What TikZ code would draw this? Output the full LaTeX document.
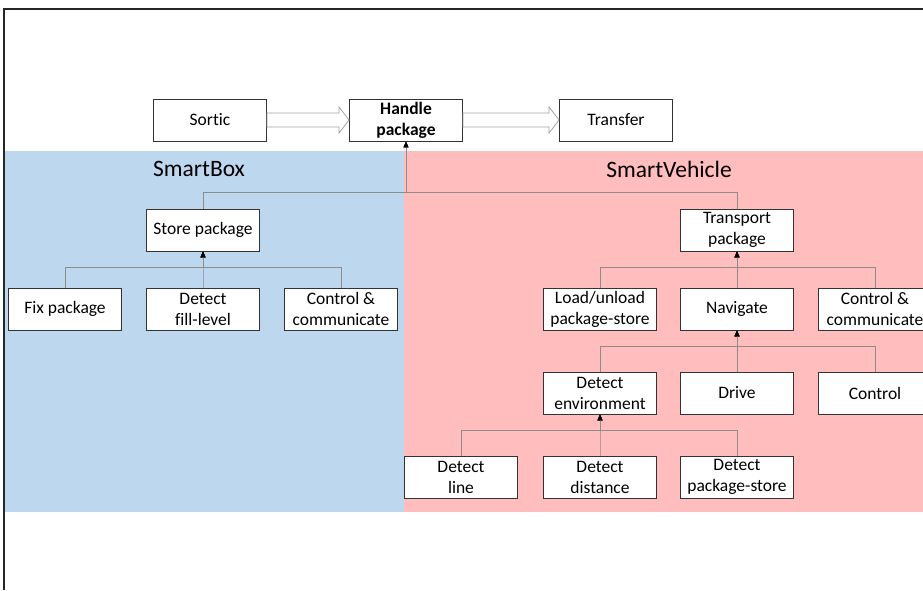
\documentclass[tikz,border=0pt]{standalone}
\usepackage{fontspec}
\setmainfont{Carlito}[Ligatures={NoCommon}]
\usepackage{tikz}
\usetikzlibrary{arrows.meta,calc}

\definecolor{boxblue}{HTML}{BDD7EE}
\definecolor{vehiclered}{HTML}{FFBDBD}
\definecolor{linkgray}{HTML}{8C8C8C}

\tikzset{
    func/.style={draw=black!80, line width=0.9pt, fill=white, align=center,
        minimum width=113pt, minimum height=42pt, inner sep=1pt,
        font=\fontsize{17.5}{21}\selectfont},
    link/.style={draw=linkgray, line width=0.8pt,
        -{Triangle[length=6pt,width=5pt,color=black]}},
    flow/.style={draw=linkgray!80, line width=0.8pt},
    title/.style={font=\fontsize{23.5}{28}\selectfont}
}

\begin{document}
\begin{tikzpicture}[x=1pt,y=-1pt]
    \clip (0,0) rectangle (923,590);
    % background regions and frame
    \fill[boxblue] (4,151) rectangle (404,512);
    \fill[vehiclered] (404,151) rectangle (923,512);
    \draw[black!85, line width=1.3pt] (4,590) -- (4,9) -- (923,9);
    \node[title] (smartbox) at (199,169) {SmartBox};
    \node[title] (smartvehicle) at (669,169) {SmartVehicle};

    % top level
    \node[func] (sortic) at (210,120) {Sortic};
    \node[func, font=\fontsize{17.5}{21}\selectfont\bfseries] (handle) at (406,120) {Handle\\package};
    \node[func] (transfer) at (616,120) {Transfer};
    \draw[flow] ($(sortic.east)+(0,-7)$) -- ($(handle.west)+(-10,-7)$) -- ($(handle.west)+(-10,-13)$)
        -- (handle.west) -- ($(handle.west)+(-10,13)$) -- ($(handle.west)+(-10,7)$)
        -- ($(sortic.east)+(0,7)$) -- cycle;
    \draw[flow] ($(handle.east)+(0,-7)$) -- ($(transfer.west)+(-10,-7)$) -- ($(transfer.west)+(-10,-13)$)
        -- (transfer.west) -- ($(transfer.west)+(-10,13)$) -- ($(transfer.west)+(-10,7)$)
        -- ($(handle.east)+(0,7)$) -- cycle;

    % SmartBox
    \node[func] (store) at (203,230) {Store package};
    \node[func] (fix) at (65,309) {Fix package};
    \node[func] (fill) at (203,309) {Detect\\fill-level};
    \node[func] (boxctrl) at (341,309) {Control \&\\communicate};

    % SmartVehicle
    \node[func] (transport) at (737,230) {Transport\\package};
    \node[func] (load) at (600,309) {Load/unload\\package-store};
    \node[func] (navigate) at (737,309) {Navigate};
    \node[func] (vehctrl) at (875,309) {Control \&\\communicate};
    \node[func] (environment) at (600,393) {Detect\\environment};
    \node[func] (drive) at (737,393) {Drive};
    \node[func] (control) at (875,393) {Control};
    \node[func] (line) at (461,477) {Detect\\line};
    \node[func] (distance) at (600,477) {Detect\\distance};
    \node[func] (pstore) at (737,477) {Detect\\package-store};

    % decomposition links
    \draw[link] (store.north) -- ++(0,-16) -| (handle.south);
    \draw[link] (transport.north) -- ++(0,-16) -| (handle.south);
    \draw[link] (fix.north) -- ++(0,-20) -| (store.south);
    \draw[link] (fill.north) -- ++(0,-20) -| (store.south);
    \draw[link] (boxctrl.north) -- ++(0,-20) -| (store.south);
    \draw[link] (load.north) -- ++(0,-20) -| (transport.south);
    \draw[link] (navigate.north) -- ++(0,-20) -| (transport.south);
    \draw[link] (vehctrl.north) -- ++(0,-20) -| (transport.south);
    \draw[link] (environment.north) -- ++(0,-25) -| (navigate.south);
    \draw[link] (drive.north) -- ++(0,-25) -| (navigate.south);
    \draw[link] (control.north) -- ++(0,-25) -| (navigate.south);
    \draw[link] (line.north) -- ++(0,-25) -| (environment.south);
    \draw[link] (distance.north) -- ++(0,-25) -| (environment.south);
    \draw[link] (pstore.north) -- ++(0,-25) -| (environment.south);
\end{tikzpicture}
\end{document}
